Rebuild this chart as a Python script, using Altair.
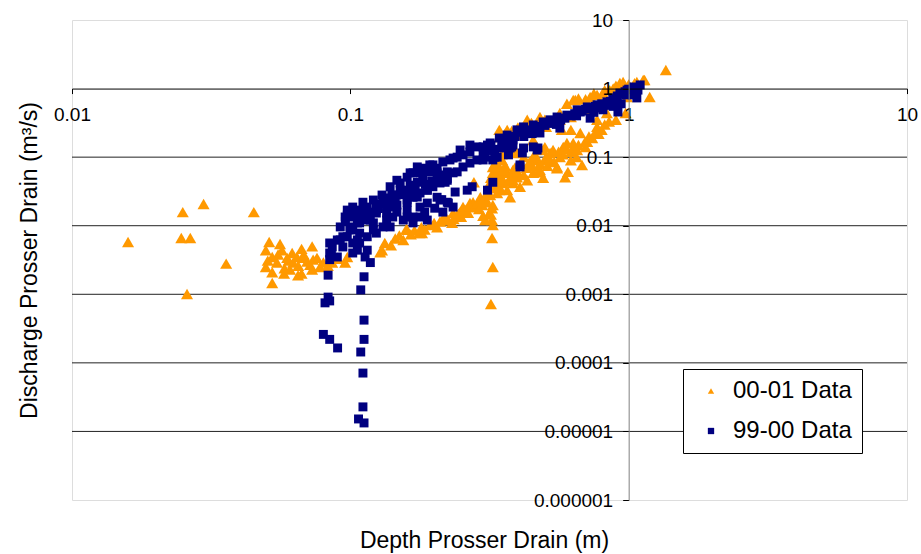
import altair as alt
import pandas as pd

# ---- data (depth m, discharge m3/s) ----
orange_depth = [
    0.0159, 0.025, 0.0297, 0.045, 0.0247, 0.0266, 0.0358, 0.0259,
    0.0511, 0.0559, 0.0729, 0.0497, 0.0568, 0.0618, 0.0668, 0.0524, 0.0593, 0.0643,
    0.0674, 0.0759, 0.0497, 0.0524, 0.0578, 0.0649, 0.0668, 0.0524, 0.0729, 0.0778,
    0.0975, 0.0958, 0.0861, 0.0545, 0.0623, 0.0717, 0.0607, 0.0735,
    0.055, 0.06, 0.065, 0.07, 0.068, 0.08, 0.083, 0.09, 0.058, 0.0505,
    0.128, 0.133, 0.155, 0.159, 0.177, 0.193, 0.215, 0.232, 0.242, 0.254, 0.276, 0.305,
    0.325, 0.323, 0.325, 0.323, 0.278, 0.325, 0.325, 0.320, 0.269, 0.293, 0.318, 0.305,
    0.337, 0.366, 0.397, 0.432, 0.454, 0.493, 0.469, 0.522, 0.553, 0.337, 0.366, 0.351,
    0.407, 0.375, 0.343, 0.323, 0.298, 0.181, 0.248, 0.130, 0.160, 0.234,
    0.14, 0.145, 0.15, 0.165, 0.17, 0.18, 0.185, 0.2, 0.205, 0.21, 0.22, 0.225, 0.235,
    0.245, 0.25, 0.26, 0.265, 0.27, 0.28, 0.285, 0.29, 0.295, 0.31, 0.315, 0.3, 0.32,
    0.343, 0.384, 0.480, 0.553, 0.591, 0.68, 0.605, 0.535, 0.582, 0.632, 0.697, 0.454,
    0.60, 0.566, 0.384, 0.343, 0.311,
    0.325, 0.351, 0.397, 0.447, 0.505, 0.384, 0.48, 0.343, 0.337, 0.366,
    0.33, 0.34, 0.35, 0.355, 0.36, 0.37, 0.38, 0.39, 0.4, 0.41, 0.42, 0.43, 0.44, 0.45,
    0.46, 0.47, 0.48, 0.5, 0.51, 0.52, 0.54, 0.56, 0.58, 0.6, 0.62, 0.64, 0.66, 0.7,
    0.72, 0.74, 0.78, 0.8, 0.82, 0.85, 0.9, 0.62, 0.65, 0.5, 0.42, 0.39, 0.35, 0.33,
    0.32, 0.315,
    0.632, 0.727, 0.808, 0.93, 1.128, 1.19, 0.975, 0.77, 0.67, 0.71, 0.653, 0.493,
    0.454, 0.407, 0.366, 0.447, 0.343, 0.505, 0.566, 0.62, 0.575, 0.727, 0.77, 0.835,
    0.877, 0.987, 1.04, 1.36, 1.14, 1.07, 0.955, 0.643, 0.77, 0.855, 0.343, 0.432,
    0.48, 0.566, 0.76, 0.62,
    0.6, 0.66, 0.7, 0.75, 0.82, 0.88, 0.9, 1.0, 1.05, 0.5, 0.45, 0.4, 0.38, 0.36,
]
orange_discharge = [
    0.0058, 0.0158, 0.0207, 0.0158, 0.0066, 0.0066, 0.0028, 0.00101,
    0.0058, 0.0054, 0.0050, 0.0044, 0.0044, 0.0040, 0.0046, 0.0035, 0.0034, 0.0035,
    0.0034, 0.0034, 0.0025, 0.0021, 0.0020, 0.0019, 0.0020, 0.00146, 0.0023, 0.0025,
    0.0035, 0.0029, 0.0029, 0.0029, 0.0029, 0.0027, 0.0023, 0.0032,
    0.0038, 0.0031, 0.0026, 0.0030, 0.0038, 0.0029, 0.0026, 0.0033, 0.0024, 0.0031,
    0.0041, 0.0056, 0.0062, 0.0090, 0.0078, 0.0102, 0.0125, 0.011, 0.0143, 0.0187, 0.022, 0.0254,
    0.020, 0.0121, 0.0102, 0.0066, 0.043, 0.059, 0.0025, 0.00072, 0.0214, 0.026, 0.028, 0.0121,
    0.059, 0.059, 0.051, 0.046, 0.059, 0.050, 0.091, 0.115, 0.069, 0.091, 0.115, 0.042,
    0.037, 0.026, 0.033, 0.018, 0.020, 0.0078, 0.0158, 0.0044, 0.0087, 0.0153,
    0.0052, 0.0065, 0.0072, 0.0075, 0.0085, 0.0095, 0.0088, 0.011, 0.0095, 0.0115, 0.0135,
    0.012, 0.0125, 0.015, 0.0135, 0.017, 0.0155, 0.019, 0.0185, 0.021, 0.0175, 0.023,
    0.022, 0.015, 0.014, 0.0145,
    0.072, 0.042, 0.061, 0.072, 0.051, 0.077, 0.061, 0.127, 0.141, 0.161, 0.167, 0.100,
    0.161, 0.100, 0.046, 0.059, 0.031,
    0.072, 0.091, 0.115, 0.091, 0.10, 0.065, 0.065, 0.037, 0.030, 0.033,
    0.035, 0.045, 0.05, 0.065, 0.075, 0.045, 0.055, 0.07, 0.06, 0.08, 0.055, 0.07, 0.085,
    0.075, 0.11, 0.06, 0.08, 0.09, 0.075, 0.095, 0.085, 0.12, 0.11, 0.13, 0.12, 0.14,
    0.15, 0.14, 0.2, 0.19, 0.22, 0.25, 0.3, 0.33, 0.35, 0.09, 0.1, 0.14, 0.1, 0.12,
    0.11, 0.08, 0.05, 0.04,
    0.68, 0.755, 0.86, 1.21, 1.33, 0.755, 0.44, 0.276, 0.225, 0.167, 0.127, 0.127,
    0.178, 0.21, 0.25, 0.315, 0.197, 0.276, 0.35, 0.385, 0.25, 0.49, 0.35, 0.44,
    0.62, 0.755, 1.055, 1.87, 1.33, 1.25, 1.25, 0.68, 0.81, 0.95, 0.25, 0.35,
    0.385, 0.44, 0.233, 0.25,
    0.6, 0.72, 0.7, 0.85, 0.95, 1.0, 1.1, 1.15, 1.2, 0.35, 0.3, 0.27, 0.24, 0.22,
]
navy_depth = [
    0.109, 0.0832, 0.0843, 0.0811, 0.112, 0.080, 0.0843, 0.112, 0.090, 0.109, 0.111, 0.111,
    0.107, 0.112, 0.112, 0.118, 0.113, 0.0832, 0.115,
    0.0843, 0.0898, 0.0975, 0.102, 0.108, 0.115, 0.0975, 0.0975, 0.102, 0.111, 0.121, 0.130,
    0.141, 0.151, 0.164, 0.168, 0.182, 0.198, 0.215, 0.234, 0.124, 0.135, 0.142, 0.160,
    0.174, 0.189, 0.205, 0.223, 0.238, 0.178, 0.215, 0.0843, 0.0843, 0.0861, 0.102, 0.108,
    0.124, 0.139, 0.160, 0.094, 0.0998, 0.106, 0.111, 0.118, 0.124, 0.131, 0.139, 0.147,
    0.155, 0.174, 0.182, 0.193, 0.205, 0.228, 0.242, 0.254, 0.269, 0.285, 0.311, 0.0958,
    0.151, 0.164, 0.174, 0.193, 0.223, 0.234, 0.219, 0.263, 0.274, 0.311, 0.325, 0.30,
    0.21, 0.225, 0.234, 0.201, 0.168, 0.168, 0.155, 0.147, 0.131, 0.121, 0.115, 0.106,
    0.0898, 0.0855,
    0.0998, 0.108, 0.115, 0.128, 0.135, 0.147, 0.160, 0.168, 0.178, 0.189, 0.198, 0.21,
    0.223, 0.242, 0.254, 0.269, 0.285, 0.30, 0.092, 0.092, 0.102, 0.108, 0.121, 0.135,
    0.142, 0.160, 0.189, 0.164, 0.139, 0.147, 0.16, 0.178, 0.189, 0.205, 0.124, 0.118,
    0.0998, 0.106, 0.094,
    0.325, 0.30, 0.318, 0.343, 0.366, 0.397, 0.419, 0.454, 0.493, 0.553, 0.60, 0.653,
    0.71, 0.77, 0.835, 0.877, 0.93, 0.987, 1.04, 1.07, 1.03, 0.915, 0.808, 0.727,
    0.566, 0.48, 0.419, 0.454, 0.469, 0.415, 0.407, 0.37, 0.375, 0.384, 0.337, 0.305,
    1.10, 1.08, 0.213, 0.223, 0.185, 0.189, 0.178, 0.407, 0.38, 0.472, 0.384, 0.351,
    0.33, 0.522, 0.67, 0.795, 0.855, 0.975, 0.269, 0.248,
    0.31, 0.32, 0.35, 0.36, 0.39, 0.41, 0.43, 0.46, 0.47, 0.5, 0.52, 0.54, 0.57, 0.59,
    0.62, 0.64, 0.68, 0.7, 0.74, 0.76, 0.8, 0.82, 0.86, 0.89, 0.91, 0.95, 0.97, 1.0,
    1.02, 0.88, 0.94, 0.75, 0.65, 0.55, 0.45, 0.42, 0.37, 0.33,
    0.096, 0.104, 0.113, 0.126, 0.137, 0.145, 0.157, 0.171, 0.186, 0.196, 0.208, 0.218,
]
navy_discharge = [
    0.00116, 0.00091, 0.00080, 0.00075, 0.00042, 0.00026, 0.00022, 0.00022, 0.000165, 0.000144,
    0.000071, 0.0000228, 0.0000152, 0.0000133, 0.0018, 0.0029, 0.0035, 0.0019, 0.0044,
    0.0056, 0.0062, 0.0069, 0.0087, 0.011, 0.0121, 0.0143, 0.0169, 0.0187, 0.022, 0.0237, 0.028,
    0.028, 0.033, 0.039, 0.059, 0.069, 0.077, 0.085, 0.097, 0.0169, 0.0153, 0.0187, 0.022,
    0.0262, 0.033, 0.026, 0.046, 0.031, 0.0187, 0.0158, 0.0032, 0.0040, 0.0049, 0.0040, 0.0056,
    0.0078, 0.0096, 0.0134, 0.0069, 0.0087, 0.011, 0.0134, 0.0158, 0.0187, 0.022, 0.0254, 0.028,
    0.033, 0.043, 0.051, 0.061, 0.069, 0.091, 0.100, 0.108, 0.119, 0.141, 0.150, 0.0134,
    0.042, 0.059, 0.072, 0.077, 0.061, 0.059, 0.043, 0.033, 0.037, 0.033, 0.043, 0.091,
    0.0237, 0.0214, 0.0187, 0.018, 0.0134, 0.011, 0.0121, 0.0158, 0.0096, 0.0087, 0.0069, 0.0062,
    0.0035, 0.0037,
    0.0134, 0.0169, 0.0187, 0.0207, 0.0187, 0.020, 0.0237, 0.026, 0.030, 0.033, 0.037, 0.042,
    0.049, 0.061, 0.072, 0.082, 0.091, 0.115, 0.0096, 0.0062, 0.0056, 0.0078, 0.011, 0.0121,
    0.0134, 0.0169, 0.0214, 0.030, 0.037, 0.046, 0.051, 0.059, 0.065, 0.059, 0.0153, 0.0121,
    0.0096, 0.0044, 0.0049,
    0.091, 0.141, 0.161, 0.19, 0.21, 0.25, 0.276, 0.295, 0.326, 0.385, 0.41, 0.49,
    0.54, 0.58, 0.64, 0.73, 0.86, 0.95, 1.055, 0.73, 0.81, 0.455, 0.49, 0.37,
    0.265, 0.225, 0.136, 0.141, 0.127, 0.115, 0.072, 0.108, 0.136, 0.178, 0.10, 0.10,
    1.13, 0.95, 0.024, 0.022, 0.0158, 0.0121, 0.0134, 0.077, 0.141, 0.136, 0.15, 0.136,
    0.10, 0.35, 0.455, 0.52, 0.58, 0.81, 0.150, 0.127,
    0.125, 0.15, 0.17, 0.18, 0.2, 0.23, 0.25, 0.26, 0.28, 0.29, 0.31, 0.33, 0.35, 0.37,
    0.4, 0.43, 0.47, 0.5, 0.52, 0.55, 0.6, 0.57, 0.65, 0.68, 0.78, 0.85, 0.9, 0.98,
    0.92, 0.55, 0.6, 0.45, 0.4, 0.3, 0.22, 0.2, 0.16, 0.13,
    0.0115, 0.0145, 0.0165, 0.0178, 0.0235, 0.0245, 0.0285, 0.034, 0.04, 0.045, 0.05, 0.055,
]

series_names = ["00-01 Data", "99-00 Data"]
series_colors = ["#FF9900", "#000080"]
series_shapes = ["triangle-up", "square"]
x_ticks = [0.01, 0.1, 1, 10]
y_ticks = [0.000001, 0.00001, 0.0001, 0.001, 0.01, 0.1, 1, 10]
grid_values = [0.00001, 0.0001, 0.001, 0.01, 0.1]

df = pd.concat([
    pd.DataFrame({"depth": orange_depth, "discharge": orange_discharge, "series": series_names[0]}),
    pd.DataFrame({"depth": navy_depth, "discharge": navy_discharge, "series": series_names[1]}),
], ignore_index=True)

FONT = "Liberation Sans"
W, H = 835, 480

xscale = alt.Scale(type="log", domain=[0.01, 10], nice=False)
yscale = alt.Scale(type="log", domain=[0.000001, 10], nice=False)

x_axis = alt.Axis(
    values=x_ticks, format=".2~f", orient="bottom", offset=-H * 6 / 7, grid=False,
    domainColor="black", domainWidth=1, tickColor="black", tickSize=5, tickWidth=1,
    labelFontSize=19, labelFont=FONT, labelColor="black", labelPadding=12,
    labelFlush=False, labelOverlap=False, zindex=1,
    title="Depth Prosser Drain (m)", titleFont=FONT, titleFontSize=23, titleFontWeight="normal",
    titleColor="black", titleX=412, titleY=452, titleBaseline="middle", titleAlign="center",
)
y_axis = alt.Axis(
    values=y_ticks, format=".6~f", orient="left", offset=-W * 2 / 3, grid=False,
    domainColor="#808080", domainWidth=1, tickColor="black", tickSize=6, tickWidth=1,
    labelFontSize=19, labelFont=FONT, labelColor="black", labelPadding=10,
    labelFlush=False, labelOverlap=False, zindex=1,
    title="Discharge Prosser Drain (m³/s)", titleFont=FONT, titleFontSize=23,
    titleFontWeight="normal", titleColor="black", titleX=-599, titleY=240,
    titleAngle=270, titleBaseline="middle", titleAlign="center",
)

legend = alt.Legend(
    title=None, orient="none", legendX=611, legendY=349, fillColor="white",
    strokeColor="black", padding=10, labelFontSize=24, labelFont=FONT, labelColor="black",
    symbolSize=40, symbolOffset=6, labelOffset=10, rowPadding=16, symbolStrokeWidth=0,
)

grid = alt.Chart(pd.DataFrame({"g": grid_values})).mark_rule(
    color="#222222", strokeWidth=1
).encode(y=alt.Y("g:Q", scale=yscale, axis=y_axis))

base = alt.Chart(df).encode(
    x=alt.X("depth:Q", scale=xscale, axis=x_axis),
    y=alt.Y("discharge:Q", scale=yscale, axis=y_axis),
    color=alt.Color("series:N", scale=alt.Scale(domain=series_names, range=series_colors), legend=legend),
    shape=alt.Shape("series:N", scale=alt.Scale(domain=series_names, range=series_shapes), legend=legend),
)
orange_layer = base.transform_filter(alt.datum.series == series_names[0]).mark_point(
    filled=True, size=145, opacity=1, strokeWidth=0
)
navy_layer = base.transform_filter(alt.datum.series == series_names[1]).mark_point(
    filled=True, size=80, opacity=1, strokeWidth=0
)

chart = alt.layer(grid, orange_layer, navy_layer).properties(
    width=W, height=H,
    padding={"left": 72, "top": 20, "right": 14, "bottom": 54},
    autosize=alt.AutoSizeParams(type="none"),
    background="white",
).configure_view(stroke="#808080", strokeWidth=1).configure(font=FONT)

chart.save("out.html", embed_options={"renderer": "svg", "actions": False})
